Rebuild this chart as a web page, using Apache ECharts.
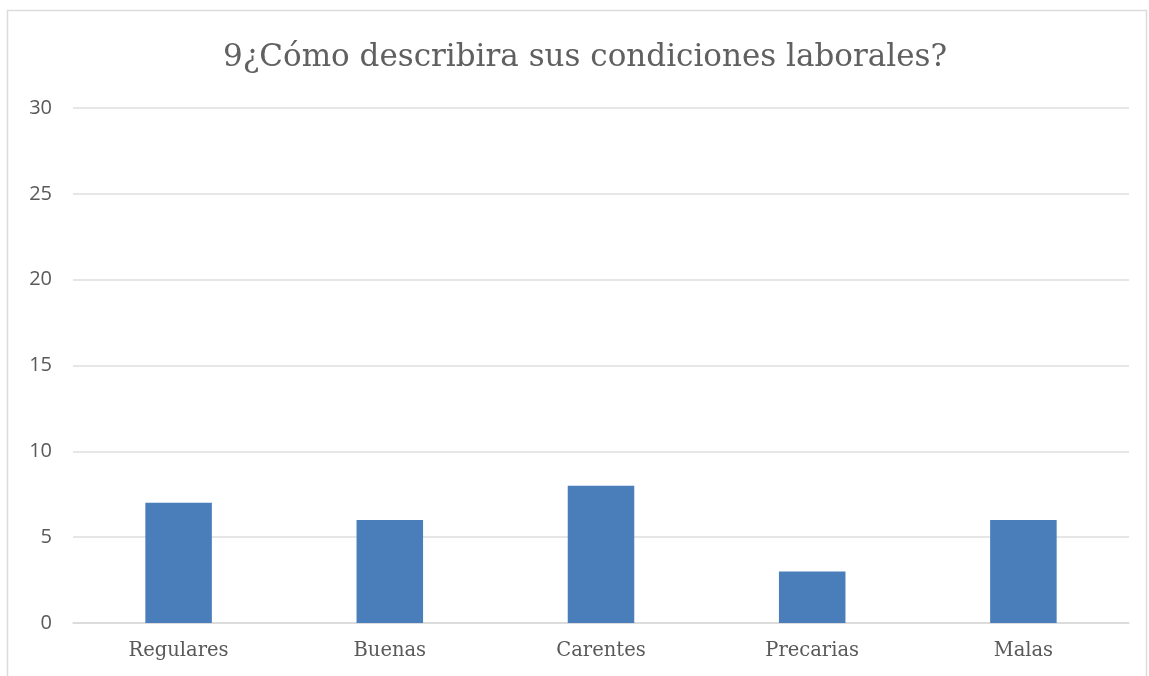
<!DOCTYPE html>
<html>
<head>
<meta charset="utf-8">
<script src="https://cdn.jsdelivr.net/npm/echarts@6/dist/echarts.min.js"></script>
<style>html,body{margin:0;padding:0;background:#fff;}#c{width:1149px;height:676px;}</style>
</head>
<body>
<div id="c"></div>
<script>
var titleText = '9¿Cómo describira sus condiciones laborales?';
var categories = ['Regulares', 'Buenas', 'Carentes', 'Precarias', 'Malas'];
var values = [7, 6, 8, 3, 6];
var yMin = 0, yMax = 30, yStep = 5;

var chart = echarts.init(document.getElementById('c'));
chart.setOption({
  backgroundColor: '#ffffff',
  animation: false,
  graphic: [{
    type: 'rect',
    shape: { x: 7.5, y: 10.5, width: 1139, height: 700 },
    style: { fill: 'none', stroke: '#dcdcdc', lineWidth: 1.5 },
    silent: true
  }],
  title: {
    text: titleText,
    left: 580, textAlign: 'center',
    top: 37,
    textStyle: { fontFamily: 'DejaVu Serif', fontSize: 31, fontWeight: 'normal', color: '#606060' }
  },
  grid: { left: 73, right: 20, top: 108, bottom: 53 },
  xAxis: {
    type: 'category',
    data: categories,
    axisLine: { lineStyle: { color: '#d9d9d9', width: 1.5 } },
    axisTick: { show: false },
    axisLabel: { margin: 18, fontFamily: 'DejaVu Serif', fontSize: 19.5, color: '#595959' }
  },
  yAxis: {
    type: 'value',
    min: yMin, max: yMax, interval: yStep,
    axisLine: { show: false },
    axisTick: { show: false },
    splitLine: { lineStyle: { color: '#dedede', width: 1.5 } },
    axisLabel: { margin: 21, fontFamily: 'Open Sans', fontSize: 20, color: '#595959' }
  },
  series: [{
    type: 'bar',
    data: values,
    barWidth: '31.5%',
    itemStyle: { color: '#4a7ebb' }
  }]
});
</script>
</body>
</html>
